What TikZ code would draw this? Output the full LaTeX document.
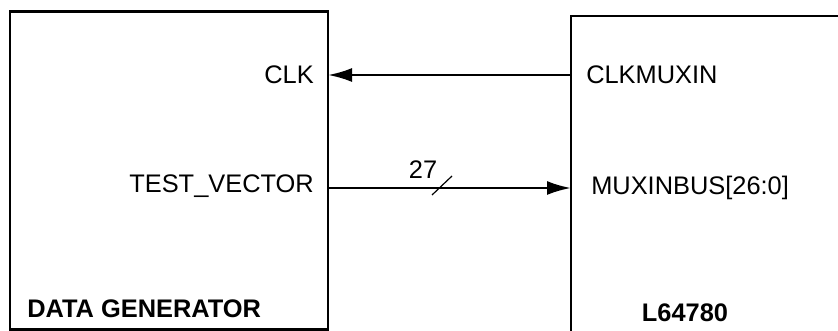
\documentclass[tikz,border=0pt]{standalone}
\usepackage{fontspec}
\setmainfont{Liberation Sans}
\usetikzlibrary{arrows.meta}
\begin{document}
\begin{tikzpicture}[x=1pt,y=-1pt,line width=2.5pt,
  lbl/.style={font=\fontsize{25.4}{30}\selectfont,inner sep=0pt},
  blbl/.style={font=\fontsize{25.4}{30}\selectfont\bfseries,inner sep=0pt},
  sig/.style={-{Latex[length=24pt,width=14pt]},line width=2.5pt}]
\useasboundingbox (0,0) rectangle (838,331);
% left box
\draw (10,11.5) rectangle (328,329.5);
% right box (cut off)
\draw (838,16) -- (571,16) -- (571,332);
% pins
\coordinate (clkL) at (328,75);
\coordinate (clkR) at (571,75);
\coordinate (busL) at (328,188);
\coordinate (busR) at (571,188);
\node[lbl,anchor=east] (clk) at (315,75) {CLK};
\node[lbl,anchor=east] (tv) at (315,186.5) {TEST\_VECTOR};
\node[blbl,anchor=west] (dg) at (26,309) {DATA GENERATOR};
\node[lbl,anchor=west] (cm) at (585,75) {CLKMUXIN};
\node[lbl,anchor=west] (mb) at (590,188) {MUXINBUS[26:0]};
\node[blbl,anchor=center] (chip) at (685,313) {L64780};
\draw[sig] (clkR) -- (clkL);
\draw[sig] (busL) -- (busR);
\coordinate (s1) at (432,195);
\coordinate (s2) at (452,176);
\draw[line width=1.2pt] (s1) -- (s2);
\node[lbl] (w) at (423,170) {27};
\end{tikzpicture}
\end{document}
